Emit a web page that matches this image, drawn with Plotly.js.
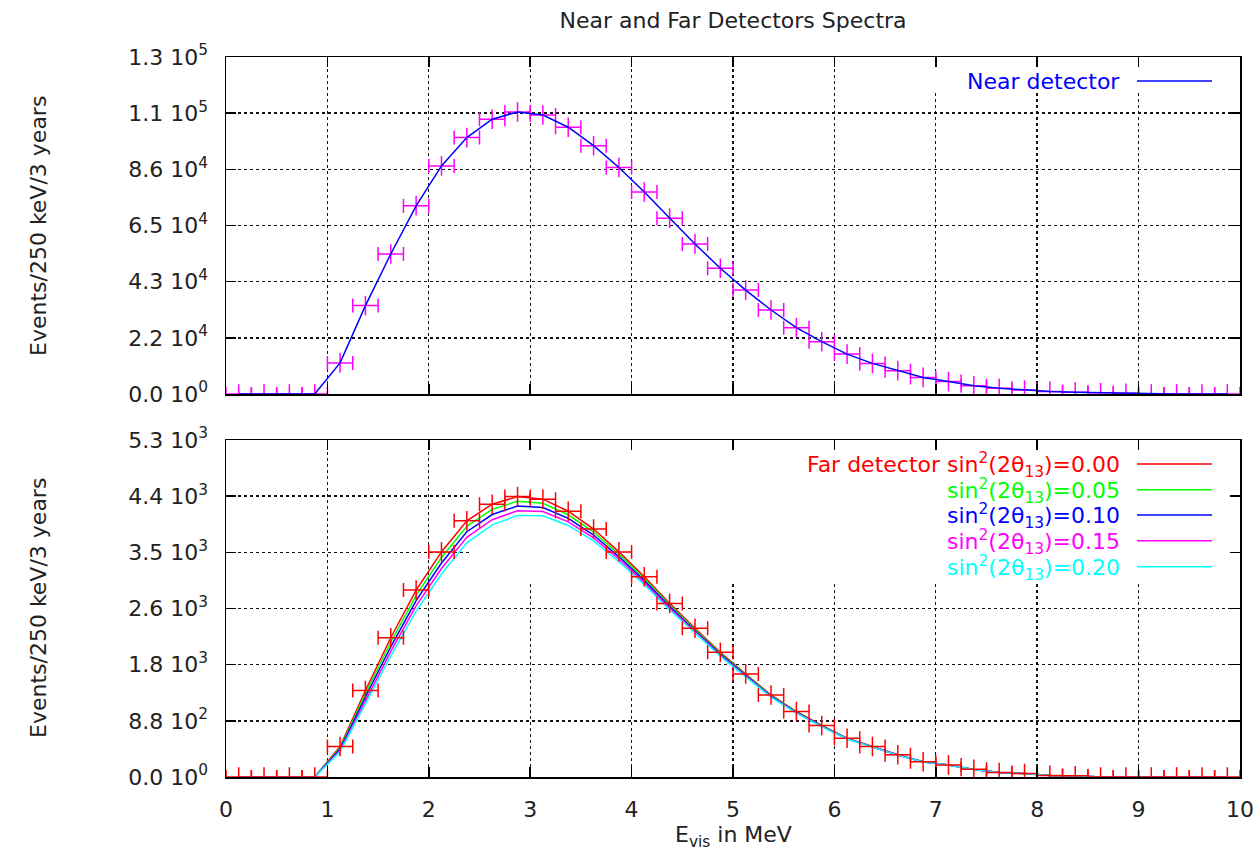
<!DOCTYPE html>
<html>
<head>
<meta charset="utf-8">
<script src="https://cdn.plot.ly/plotly-3.0.1.min.js"></script>
<style>html,body{margin:0;padding:0;background:#fff;}#chart{width:1258px;height:858px;}</style>
</head>
<body>
<div id="chart"></div>
<script>
// Bin centres (MeV), 250 keV bins
const energies = [0.125,0.375,0.625,0.875,1.125,1.375,1.625,1.875,2.125,2.375,2.625,2.875,3.125,3.375,3.625,3.875,4.125,4.375,4.625,4.875,5.125,5.375,5.625,5.875,6.125,6.375,6.625,6.875,7.125,7.375,7.625,7.875,8.125,8.375,8.625,8.875,9.125,9.375,9.625,9.875];
const binHalfWidth = 0.125;

// Near detector events
const nearEvents = [0,0,0,0,11900,33840,53590,72040,87320,98140,105200,107960,106770,102110,95060,86730,77300,67280,57450,48130,39790,32150,25400,20040,15280,11710,8930,6350,4760,3180,2180,1490,990,700,500,300,0,0,0,0];

// Far detector events for several sin^2(2theta13)
const far000 = [0,0,0,0,480,1360,2190,2940,3540,4030,4290,4410,4370,4180,3900,3540,3150,2730,2340,1960,1620,1290,1030,810,610,480,350,240,190,120,70,55,25,20,0,0,0,0,0,0];
const far005 = [0,0,0,0,460,1309,2119,2857,3453,3943,4209,4336,4305,4124,3853,3501,3119,2705,2321,1945,1609,1282,1024,805,607,478,348,239,189,120,70,55,25,20,0,0,0,0,0,0];
const far010 = [0,0,0,0,439,1258,2048,2774,3366,3857,4128,4262,4239,4068,3806,3463,3088,2681,2301,1930,1597,1273,1018,801,604,475,347,238,188,119,70,55,25,20,0,0,0,0,0,0];
const far015 = [0,0,0,0,419,1208,1977,2692,3279,3770,4046,4188,4174,4012,3759,3424,3057,2656,2282,1915,1586,1265,1011,796,601,473,345,237,188,119,69,54,25,20,0,0,0,0,0,0];
const far020 = [0,0,0,0,398,1157,1906,2609,3193,3683,3965,4114,4109,3956,3712,3386,3025,2631,2263,1901,1575,1257,1005,792,597,471,344,236,187,118,69,54,25,20,0,0,0,0,0,0];

// Axis ticks
const xTicks = [0,1,2,3,4,5,6,7,8,9,10];
const topTickVals = [0,21500,43000,64500,86000,107500,129000];
const topTickText = ["0.0 10<sup>0</sup>","2.2 10<sup>4</sup>","4.3 10<sup>4</sup>","6.5 10<sup>4</sup>","8.6 10<sup>4</sup>","1.1 10<sup>5</sup>","1.3 10<sup>5</sup>"];
const botTickVals = [0,883,1767,2650,3533,4417,5300];
const botTickText = ["0.0 10<sup>0</sup>","8.8 10<sup>2</sup>","1.8 10<sup>3</sup>","2.6 10<sup>3</sup>","3.5 10<sup>3</sup>","4.4 10<sup>3</sup>","5.3 10<sup>3</sup>"];

const farSeries = [
  {y: far000, color: '#ff0000', label: 'Far detector sin<sup>2</sup>(2θ<sub>13</sub>)=0.00'},
  {y: far005, color: '#00ff00', label: 'sin<sup>2</sup>(2θ<sub>13</sub>)=0.05'},
  {y: far010, color: '#0000ff', label: 'sin<sup>2</sup>(2θ<sub>13</sub>)=0.10'},
  {y: far015, color: '#ff00ff', label: 'sin<sup>2</sup>(2θ<sub>13</sub>)=0.15'},
  {y: far020, color: '#00ffff', label: 'sin<sup>2</sup>(2θ<sub>13</sub>)=0.20'}
];

const FONT = 'DejaVu Sans, Liberation Sans, Arial, sans-serif';
const TXT = '#222';

const traces = [];
// Top: near detector data points
traces.push({
  x: energies, y: nearEvents, xaxis: 'x', yaxis: 'y', type: 'scatter', mode: 'markers',
  marker: {symbol: 'line-ns-open', size: 14, color: '#ff00ff', line: {color: '#ff00ff', width: 1.5}},
  error_x: {type: 'constant', value: binHalfWidth, color: '#ff00ff', thickness: 1.5, width: 7},
  showlegend: false, hoverinfo: 'x+y'
});
traces.push({
  x: energies, y: nearEvents, xaxis: 'x', yaxis: 'y', type: 'scatter', mode: 'lines',
  line: {color: '#0000ff', width: 1.5}, showlegend: false
});
// Bottom: far detector lines
farSeries.forEach(s => {
  traces.push({x: energies, y: s.y, xaxis: 'x2', yaxis: 'y2', type: 'scatter', mode: 'lines',
    line: {color: s.color, width: 1.5}, showlegend: false});
});
// Bottom: far detector data points
traces.push({
  x: energies, y: far000, xaxis: 'x2', yaxis: 'y2', type: 'scatter', mode: 'markers',
  marker: {symbol: 'line-ns-open', size: 14, color: '#ff0000', line: {color: '#ff0000', width: 1.5}},
  error_x: {type: 'constant', value: binHalfWidth, color: '#ff0000', thickness: 1.5, width: 7},
  showlegend: false
});

const L = 226, R = 1240, TOP = 57, BOT = 777;
const px = v => (v - L) / (R - L);
const py = v => (BOT - v) / (BOT - TOP);

const axisCommon = {
  showline: true, linecolor: '#000', linewidth: 1.5, mirror: 'allticks',
  ticks: 'inside', ticklen: 10, tickcolor: '#000', tickwidth: 1.5,
  showgrid: true, gridcolor: '#111', gridwidth: 1.4, griddash: '3px,3px',
  zeroline: false, tickfont: {family: FONT, size: 22, color: TXT}, fixedrange: true
};

const shapes = [];
// key boxes (hide grid behind keys)
shapes.push({type: 'rect', xref: 'x', yref: 'y', x0: 6.78, x1: 10, y0: 116000, y1: 129000,
  fillcolor: '#fff', line: {width: 0}, layer: 'between'});
shapes.push({type: 'rect', xref: 'x2', yref: 'y2', x0: 2.42, x1: 10, y0: 3067, y1: 5300,
  fillcolor: '#fff', line: {width: 0}, layer: 'between'});

const annotations = [];
// Top key
annotations.push({xref: 'paper', yref: 'paper', x: px(1122), y: py(81), xanchor: 'right', yanchor: 'middle',
  text: 'Near detector', showarrow: false, font: {family: FONT, size: 22, color: '#0000ff'}});
shapes.push({type: 'line', xref: 'paper', yref: 'paper', x0: px(1137), x1: px(1212), y0: py(81), y1: py(81),
  line: {color: '#0000ff', width: 1.5}});
// Bottom key
const keyRows = [465, 490.7, 516, 541.7, 567.7];
farSeries.forEach((s, i) => {
  annotations.push({xref: 'paper', yref: 'paper', x: px(1122), y: py(keyRows[i]), xanchor: 'right', yanchor: 'middle',
    text: s.label, showarrow: false, font: {family: FONT, size: 22, color: s.color}});
  shapes.push({type: 'line', xref: 'paper', yref: 'paper', x0: px(1137), x1: px(1212), y0: py(keyRows[i] - 1), y1: py(keyRows[i] - 1),
    line: {color: s.color, width: 1.5}});
});
// Axis titles
annotations.push({xref: 'paper', yref: 'paper', x: px(38), y: py(226), textangle: -90, xanchor: 'center', yanchor: 'middle',
  text: 'Events/250 keV/3 years', showarrow: false, font: {family: FONT, size: 22, color: TXT}});
annotations.push({xref: 'paper', yref: 'paper', x: px(38), y: py(608), textangle: -90, xanchor: 'center', yanchor: 'middle',
  text: 'Events/250 keV/3 years', showarrow: false, font: {family: FONT, size: 22, color: TXT}});
annotations.push({xref: 'paper', yref: 'paper', x: px(733), y: py(836), xanchor: 'center', yanchor: 'middle',
  text: 'E<sub>vis</sub> in MeV', showarrow: false, font: {family: FONT, size: 22, color: TXT}});

const layout = {
  width: 1258, height: 858,
  margin: {l: L, r: 1258 - R, t: TOP, b: 858 - BOT, pad: 0},
  paper_bgcolor: '#fff', plot_bgcolor: '#fff',
  showlegend: false,
  title: {text: 'Near and Far Detectors Spectra', x: 0.5, xref: 'paper', y: 1 - 20 / 858, yref: 'container',
    xanchor: 'center', yanchor: 'middle', font: {family: FONT, size: 22, color: TXT}},
  xaxis: Object.assign({}, axisCommon, {anchor: 'y', range: [0, 10], tickvals: xTicks, showticklabels: false}),
  yaxis: Object.assign({}, axisCommon, {anchor: 'x', domain: [py(394), 1], range: [0, 129000],
    tickvals: topTickVals, ticktext: topTickText, ticklabelstandoff: 12}),
  xaxis2: Object.assign({}, axisCommon, {anchor: 'y2', range: [0, 10], tickvals: xTicks,
    ticktext: xTicks.map(String), ticklabelstandoff: 12}),
  yaxis2: Object.assign({}, axisCommon, {anchor: 'x2', domain: [0, py(440)], range: [0, 5300],
    tickvals: botTickVals, ticktext: botTickText, ticklabelstandoff: 12}),
  shapes: shapes,
  annotations: annotations
};

Plotly.newPlot('chart', traces, layout, {displayModeBar: false, staticPlot: true});
</script>
</body>
</html>
